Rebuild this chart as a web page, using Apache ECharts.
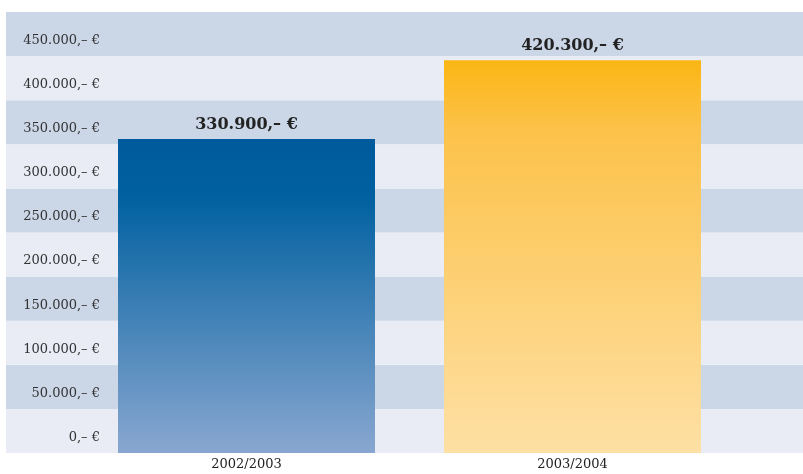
<!DOCTYPE html>
<html>
<head>
<meta charset="utf-8">
<script src="https://cdn.jsdelivr.net/npm/echarts@6/dist/echarts.min.js"></script>
<style>
  html, body { margin: 0; padding: 0; background: #ffffff; }
  #chart { width: 803px; height: 474px; }
</style>
</head>
<body>
<div id="chart"></div>
<script>
// School years and the amounts raised in each
const categories = ['2002/2003', '2003/2004'];
const amounts = [330900, 420300];
// Tick values on the amount axis
const tickValues = [0, 50000, 100000, 150000, 200000, 250000, 300000, 350000, 400000, 450000];

// Bar gradients: [top colour, middle colour, bottom colour]
const barGradients = [
  ['#005a9c', '#0060a0', '#89a7d0'],
  ['#fbb614', '#fcc24a', '#fee0a5']
];

const SERIF = '"DejaVu Serif", "Liberation Serif", serif';

// German-style currency: 450.000,– €
function euro(v) {
  const s = String(Math.round(v)).replace(/\B(?=(\d{3})+(?!\d))/g, '.');
  return s + ',\u2013 \u20ac';
}

const barData = amounts.map((v, i) => ({
  value: v,
  itemStyle: {
    color: new echarts.graphic.LinearGradient(0, 0, 0, 1, [
      { offset: 0, color: barGradients[i][0] },
      { offset: 0.18, color: barGradients[i][1] },
      { offset: 1, color: barGradients[i][2] }
    ])
  }
}));

const AXIS_MIN = -25000;
const AXIS_MAX = 475000;

const chart = echarts.init(document.getElementById('chart'), null, { renderer: 'canvas' });
chart.setOption({
  animation: false,
  backgroundColor: '#ffffff',
  grid: [
    { left: 6, right: 0, top: 12, bottom: 21 },
    { left: 83.5, right: 67.5, top: 12, bottom: 21 }
  ],
  xAxis: [
    { gridIndex: 0, type: 'category', data: categories, show: false },
    {
      gridIndex: 1,
      type: 'category',
      data: categories,
      axisLine: { show: false },
      axisTick: { show: false },
      axisLabel: { color: '#222', fontFamily: SERIF, fontSize: 13, margin: 5 }
    }
  ],
  yAxis: [
    {
      gridIndex: 0,
      type: 'value',
      min: AXIS_MIN,
      max: AXIS_MAX,
      interval: 50000,
      axisLine: { show: false },
      axisTick: { show: false },
      splitLine: { show: false },
      splitArea: { show: true, areaStyle: { color: ['#e9ecf5', '#cbd6e7'] } },
      axisLabel: {
        inside: true,
        customValues: tickValues,
        formatter: euro,
        align: 'right',
        verticalAlign: 'top',
        margin: 94,
        color: '#333',
        fontFamily: SERIF,
        fontSize: 13
      }
    },
    {
      gridIndex: 1,
      type: 'value',
      min: AXIS_MIN,
      max: AXIS_MAX,
      interval: 50000,
      startValue: AXIS_MIN,
      show: false,
      splitLine: { show: false }
    }
  ],
  series: [
    {
      type: 'bar',
      xAxisIndex: 1,
      yAxisIndex: 1,
      barWidth: 257,
      data: barData,
      label: {
        show: true,
        position: 'top',
        distance: 6,
        formatter: p => euro(p.value),
        color: '#222',
        fontFamily: SERIF,
        fontWeight: 'bold',
        fontSize: 16
      }
    }
  ]
});
</script>
</body>
</html>
